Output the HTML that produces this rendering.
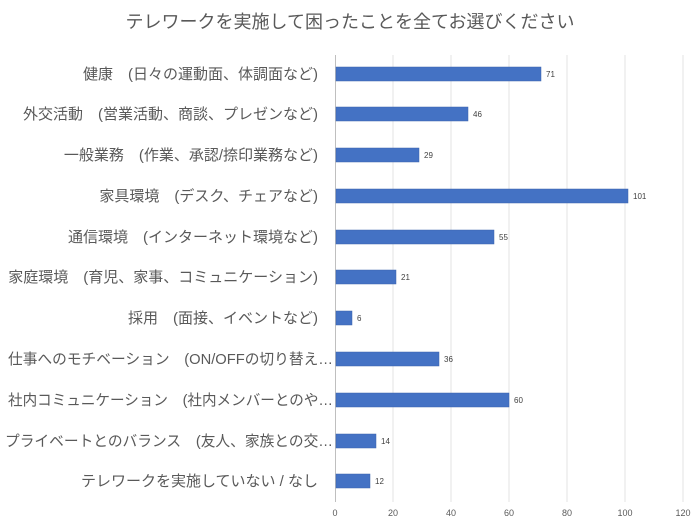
<!DOCTYPE html>
<html><head><meta charset="utf-8"><style>
body{margin:0;background:#fff;}
svg{display:block;font-family:"Liberation Sans","Noto Sans CJK JP",sans-serif;}
</style></head><body>
<svg width="700" height="525" viewBox="0 0 700 525">
<text x="350" y="28" text-anchor="middle" font-size="18" fill="#595959">テレワークを実施して困ったことを全てお選びください</text>
<g stroke="#e3e3e3" stroke-width="1">
<line x1="393" y1="55" x2="393" y2="502"/><line x1="451" y1="55" x2="451" y2="502"/><line x1="509" y1="55" x2="509" y2="502"/><line x1="567" y1="55" x2="567" y2="502"/><line x1="625" y1="55" x2="625" y2="502"/><line x1="683" y1="55" x2="683" y2="502"/>
</g>
<line x1="335.5" y1="55" x2="335.5" y2="502" stroke="#bfbfbf"/>
<g fill="#595959" font-size="9" text-anchor="middle">
<text x="335" y="516">0</text><text x="393" y="516">20</text><text x="451" y="516">40</text><text x="509" y="516">60</text><text x="567" y="516">80</text><text x="625" y="516">100</text><text x="683" y="516">120</text>
</g>
<g fill="#4472c4" stroke="#3a62ad" stroke-width="0.5">
<rect x="336" y="67" width="205" height="14"/>
<rect x="336" y="107" width="132" height="14"/>
<rect x="336" y="148" width="83" height="14"/>
<rect x="336" y="189" width="292" height="14"/>
<rect x="336" y="230" width="158" height="14"/>
<rect x="336" y="270" width="60" height="14"/>
<rect x="336" y="311" width="16" height="14"/>
<rect x="336" y="352" width="103" height="14"/>
<rect x="336" y="393" width="173" height="14"/>
<rect x="336" y="434" width="40" height="14"/>
<rect x="336" y="474" width="34" height="14"/>
</g>
<g fill="#404040" font-size="8">
<text x="546" y="77">71</text><text x="473" y="117">46</text><text x="424" y="158">29</text><text x="633" y="199">101</text><text x="499" y="240">55</text><text x="401" y="280">21</text><text x="357" y="321">6</text><text x="444" y="362">36</text><text x="514" y="403">60</text><text x="381" y="444">14</text><text x="375" y="484">12</text>
</g>
<g fill="#595959" font-size="15" text-anchor="end">
<text x="318" y="79">健康　(日々の運動面、体調面など)</text>
<text x="318" y="119">外交活動　(営業活動、商談、プレゼンなど)</text>
<text x="318" y="160">一般業務　(作業、承認/捺印業務など)</text>
<text x="318" y="201">家具環境　(デスク、チェアなど)</text>
<text x="318" y="242">通信環境　(インターネット環境など)</text>
<text x="318" y="282">家庭環境　(育児、家事、コミュニケーション)</text>
<text x="318" y="323">採用　(面接、イベントなど)</text>
</g>
<g fill="#595959" font-size="15">
<text x="8" y="364" textLength="325" lengthAdjust="spacingAndGlyphs">仕事へのモチベーション　(ON/OFFの切り替え…</text>
<text x="8" y="405" textLength="325" lengthAdjust="spacingAndGlyphs">社内コミュニケーション　(社内メンバーとのや…</text>
<text x="5" y="446" textLength="328" lengthAdjust="spacingAndGlyphs">プライベートとのバランス　(友人、家族との交…</text>
</g>
<g fill="#595959" font-size="15" text-anchor="end">
<text x="318" y="486">テレワークを実施していない / なし</text>
</g>
</svg>
</body></html>
